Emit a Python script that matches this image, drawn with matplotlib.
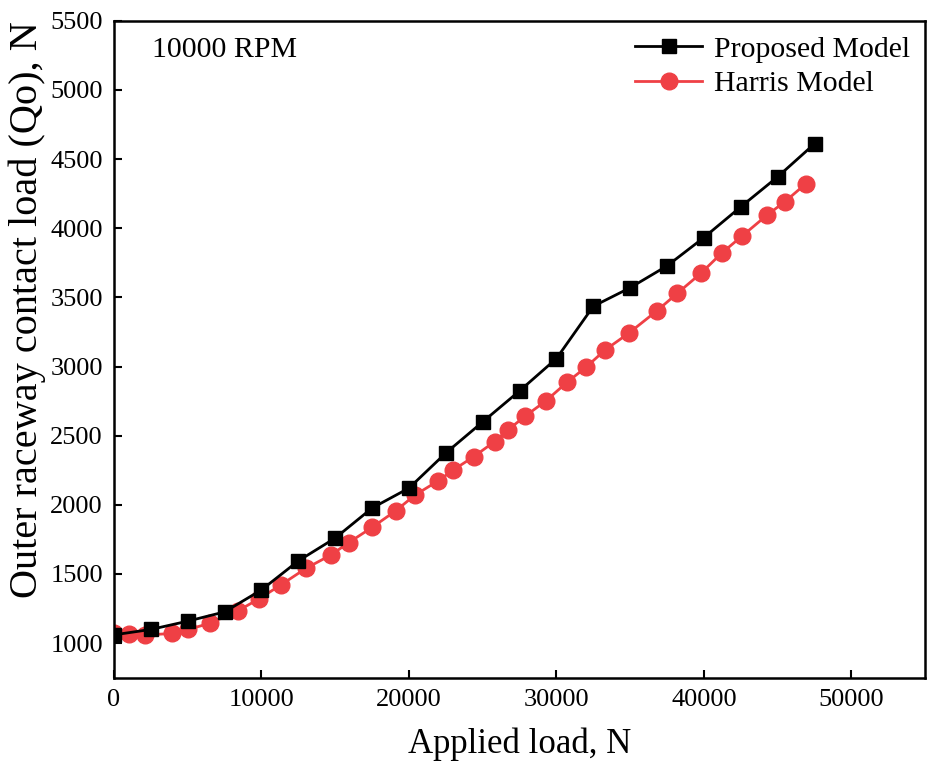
import matplotlib
matplotlib.use("Agg")
import matplotlib.pyplot as plt

plt.rcParams['font.family'] = ['Liberation Serif', 'DejaVu Serif']

# Proposed model (square markers)
proposed_load = [0, 2500, 5000, 7500, 10000, 12500, 15000, 17500, 20000, 22500,
                 25000, 27500, 30000, 32500, 35000, 37500, 40000, 42500, 45000, 47500]
proposed_qo = [1060, 1099, 1159, 1226, 1385, 1595, 1760, 1977, 2121, 2375,
               2600, 2824, 3058, 3436, 3570, 3728, 3933, 4155, 4372, 4611]

# Harris model (circle markers)
harris_load = [0, 1000, 2100, 3900, 5000, 6500, 8400, 9800, 11300, 13000,
               14700, 15900, 17500, 19100, 20400, 22000, 23000, 24400, 25800, 26700,
               27900, 29300, 30700, 32000, 33300, 34900, 36800, 38200, 39800, 41200,
               42600, 44300, 45500, 46900]
harris_qo = [1070, 1065, 1058, 1070, 1099, 1143, 1234, 1318, 1420, 1540,
             1637, 1726, 1837, 1957, 2070, 2175, 2252, 2349, 2457, 2541,
             2643, 2753, 2885, 2995, 3120, 3241, 3402, 3530, 3675, 3820,
             3945, 4097, 4193, 4321]

fig = plt.figure(figsize=(9.27, 7.71), dpi=100)
ax = fig.add_axes([0.123, 0.121, 0.875, 0.852])

ax.plot(proposed_load, proposed_qo, color='black', lw=2, marker='s',
        markersize=10, label='Proposed Model', zorder=3)
ax.plot(harris_load, harris_qo, color='#EF4045', lw=2, marker='o',
        markersize=12, label='Harris Model', zorder=2)

ax.set_xlim(0, 55000)
ax.set_ylim(750, 5500)
ax.set_xticks(range(0, 50001, 10000))
ax.set_yticks(range(1000, 5501, 500))

ax.tick_params(direction='in', length=6, width=1.5, labelsize=19, pad=8)
for s in ax.spines.values():
    s.set_linewidth(1.8)

ax.set_xlabel('Applied load, N', fontsize=25, labelpad=12)
ax.set_ylabel('Outer raceway contact load (Qo), N', fontsize=29, labelpad=3)
# label sits a bit above the axis middle in the original
ax.yaxis.label.set_y(0.56)

ax.text(0.047, 0.975, '10000 RPM', transform=ax.transAxes, fontsize=21.5,
        va='top', ha='left')

ax.legend(loc='upper right', frameon=False, fontsize=21.5, handlelength=2.25,
          borderaxespad=0.1, labelspacing=0.25, handletextpad=0.4)

fig.savefig('out.png', dpi=100)
